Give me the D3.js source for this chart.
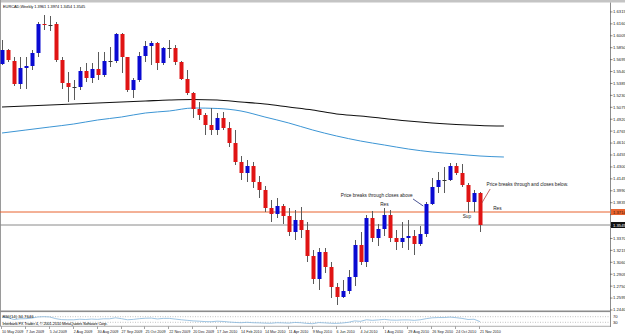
<!DOCTYPE html>
<html><head><meta charset="utf-8">
<script src="https://cdn.jsdelivr.net/npm/d3@7"></script>
<style>html,body{margin:0;padding:0;background:#fff;overflow:hidden}svg{display:block}</style>
</head><body><svg id="c" width="625" height="334"></svg>
<script>
// ---- data (EURCAD weekly, bar index 0 = week of 10 May 2009) ----
const opens = [1.5638,1.5820,1.5677,1.5378,1.5586,1.5612,1.5781,1.6158,1.6145,1.6158,
1.5690,1.5391,1.5339,1.5339,1.5547,1.5456,1.5573,1.5495,1.5677,1.5677,
1.6028,1.5729,1.5300,1.5430,1.5742,1.5872,1.5911,1.5651,1.5846,1.5846,
1.5664,1.5443,1.5261,1.5053,1.4975,1.4845,1.4780,1.4936,1.4806,1.4611,
1.4364,1.4221,1.4312,1.4104,1.4000,1.3766,1.3688,1.3792,1.3662,1.3454,
1.3610,1.3480,1.3142,1.2843,1.3194,1.2999,1.2739,1.2609,1.2687,1.2869,
1.3285,1.3064,1.3636,1.3376,1.3493,1.3675,1.3376,1.3324,1.3376,1.3402,
1.3298,1.3428,1.3818,1.4039,1.4130,1.4130,1.4312,1.4221,1.4065,1.3844,1.3961];
const highs = [1.5950,1.5833,1.5729,1.5729,1.5729,1.5820,1.6184,1.6275,1.6262,1.6184,
1.5729,1.5534,1.5430,1.5599,1.5651,1.5651,1.5794,1.5794,1.5859,1.6041,
1.6041,1.5729,1.5456,1.5794,1.5937,1.5937,1.5924,1.5859,1.5950,1.5885,
1.5677,1.5560,1.5274,1.5144,1.5001,1.5066,1.5001,1.5014,1.4884,1.4780,
1.4442,1.4390,1.4364,1.4182,1.4052,1.3870,1.3896,1.3818,1.3766,1.3740,
1.3779,1.3584,1.3220,1.3246,1.3246,1.3064,1.2791,1.2830,1.2960,1.3350,
1.3454,1.3675,1.3727,1.3558,1.3766,1.3740,1.3480,1.3584,1.3610,1.3480,
1.3532,1.3844,1.4156,1.4234,1.4299,1.4351,1.4351,1.4338,1.4091,1.4000,1.3974];
const lows = [1.5625,1.5664,1.5352,1.5313,1.5313,1.5560,1.5729,1.6080,1.6067,1.5664,
1.5313,1.5144,1.5170,1.5300,1.5404,1.5391,1.5430,1.5469,1.5599,1.5651,
1.5521,1.5274,1.5196,1.5404,1.5664,1.5625,1.5560,1.5625,1.5716,1.5625,
1.5430,1.5235,1.4936,1.4910,1.4715,1.4715,1.4715,1.4780,1.4559,1.4325,
1.4130,1.4104,1.4026,1.3896,1.3714,1.3584,1.3636,1.3558,1.3402,1.3350,
1.3376,1.3064,1.2778,1.2700,1.2921,1.2596,1.2505,1.2596,1.2648,1.2752,
1.3025,1.2999,1.3324,1.3272,1.3402,1.3324,1.3220,1.3246,1.3220,1.3155,
1.3272,1.3389,1.3805,1.3961,1.3961,1.4117,1.4195,1.4039,1.3701,1.3714,1.3454];
const closes = [1.5820,1.5690,1.5378,1.5586,1.5612,1.5781,1.6158,1.6145,1.6145,1.5690,
1.5391,1.5339,1.5339,1.5547,1.5456,1.5573,1.5495,1.5677,1.5677,1.6028,
1.5729,1.5300,1.5430,1.5742,1.5872,1.5911,1.5651,1.5846,1.5846,1.5664,
1.5443,1.5261,1.5053,1.4975,1.4845,1.4780,1.4936,1.4806,1.4611,1.4364,
1.4221,1.4312,1.4104,1.4000,1.3766,1.3688,1.3792,1.3662,1.3454,1.3610,
1.3480,1.3142,1.2843,1.3194,1.2999,1.2739,1.2609,1.2687,1.2869,1.3285,
1.3064,1.3636,1.3376,1.3493,1.3675,1.3376,1.3324,1.3376,1.3402,1.3298,
1.3428,1.3818,1.4039,1.4130,1.4130,1.4312,1.4221,1.4065,1.3844,1.3961,1.3545];

// moving averages, read every 4 bars (bar index 0..84)
const maIndex = [0,4,8,12,16,20,24,28,32,36,40,44,48,52,56,60,64,68,72,76,80,84];
const maSlow = [1.5079,1.5092,1.5105,1.5118,1.5131,1.5144,1.5157,1.5170,1.5177,1.5170,1.5144,
1.5118,1.5079,1.5040,1.4988,1.4962,1.4930,1.4897,1.4871,1.4852,1.4839,1.4832];
const maFast = [1.4741,1.4780,1.4819,1.4858,1.4910,1.4949,1.5001,1.5027,1.5066,1.5060,1.5027,
1.4949,1.4871,1.4780,1.4702,1.4637,1.4585,1.4533,1.4494,1.4468,1.4442,1.4429];

// RSI(14) per bar
const rsi = [66,62,50,55,56,60,68,70,68,56,49,48,48,52,50,53,51,55,55,62,
56,48,51,56,59,60,54,58,58,53,48,44,40,38,35,34,38,36,32,29,
27,30,27,26,24,23,27,26,24,29,27,22,20,28,26,23,22,25,30,40,
37,48,44,47,51,46,45,47,47,44,48,56,62,64,64,67,63,58,50,52,34.7646];

const dateLabels = ["10 May 2009","7 Jun 2009","5 Jul 2009","2 Aug 2009","30 Aug 2009","27 Sep 2009",
"25 Oct 2009","22 Nov 2009","20 Dec 2009","17 Jan 2010","14 Feb 2010","14 Mar 2010","11 Apr 2010",
"9 May 2010","6 Jun 2010","4 Jul 2010","1 Aug 2010","29 Aug 2010","26 Sep 2010","24 Oct 2010","21 Nov 2010"];
const dateIndex = [0,4,8,12,16,20,24,28,32,36,40,44,48,52,56,60,64,68,72,76,80];

const priceTicks = [1.2440,1.2595,1.2750,1.2905,1.3060,1.3215,1.3370,1.3525,1.3680,1.3835,1.3990,
1.4145,1.4300,1.4455,1.4610,1.4765,1.4920,1.5075,1.5230,1.5385,1.5540,1.5695,1.5850,1.6005,1.6160,1.6315];

const resLevel = 1.3714;   // orange horizontal line
const bidLevel = 1.3545;   // last price line
const title = "EURCAD,Weekly  1.3961 1.3974 1.3454 1.3545";
const rsiLabel = "RSI(14) 34.7646";
const copyright = "Interbank FX Trader 4, \u00A9 2001-2010 MetaQuotes Software Corp.";
const notes = [
  {text:"Res", bar:63.3, price:1.3792, size:4.7},
  {text:"Price breaks through closes above", bar:56.7, price:1.3909, size:4.7},
  {text:"Sup", bar:77.1, price:1.3636, size:4.7},
  {text:"Price breaks through and closes below.", bar:81.1, price:1.4052, size:4.7},
  {text:"Res", bar:82.2, price:1.3740, size:4.7}
];
const arrows = [
  {b0:68.8, p0:1.3883, b1:70.5, p1:1.3792, color:"#1d2a78"},
  {b0:81.7, p0:1.4013, b1:80.3, p1:1.3831, color:"#b43a3a"}
];

// ---- drawing ----
const W = 625, H = 334;
const FONT = "'Liberation Sans', Arial, sans-serif";
const svg = d3.select('#c');
const x = d3.scaleLinear().domain([0, 80]).range([2, 480]);
const y = d3.scaleLinear().domain([1.2440, 1.6470]).range([310, 0]);
const yR = d3.scaleLinear().domain([0, 100]).range([326.5, 312.5]);
const axisX = 610;

svg.append('rect').attr('width', W).attr('height', H).attr('fill', '#fff');
svg.append('rect').attr('x', 0).attr('y', 0).attr('width', W).attr('height', 2.5).attr('fill', '#c4c4c4');
svg.append('rect').attr('x', 0).attr('y', 0).attr('width', 1).attr('height', 326).attr('fill', '#9a9a9a');

const defs = svg.append('defs');
defs.append('clipPath').attr('id', 'main').append('rect')
  .attr('x', 0).attr('y', 2.5).attr('width', axisX).attr('height', 308.5);
defs.append('clipPath').attr('id', 'sub').append('rect')
  .attr('x', 0).attr('y', 312).attr('width', axisX).attr('height', 14);

const main = svg.append('g').attr('clip-path', 'url(#main)');

const maLine = d3.line().x(d => x(d[0])).y(d => y(d[1])).curve(d3.curveMonotoneX);
main.append('path').datum(maIndex.map((b, i) => [b, maSlow[i]]))
  .attr('d', maLine).attr('fill', 'none').attr('stroke', '#111').attr('stroke-width', 1.1);
main.append('path').datum(maIndex.map((b, i) => [b, maFast[i]]))
  .attr('d', maLine).attr('fill', 'none').attr('stroke', '#3c95d4').attr('stroke-width', 1);

main.append('line').attr('x1', 0).attr('x2', axisX).attr('y1', y(resLevel)).attr('y2', y(resLevel))
  .attr('stroke', '#e8622e').attr('stroke-width', 1);
main.append('line').attr('x1', 0).attr('x2', axisX).attr('y1', y(bidLevel)).attr('y2', y(bidLevel))
  .attr('stroke', '#8a8a8a').attr('stroke-width', 1);

const bars = d3.range(opens.length).map(i => ({i, o: opens[i], h: highs[i], l: lows[i], c: closes[i]}));
const cg = main.selectAll('g.candle').data(bars).join('g').attr('class', 'candle');
cg.append('line')
  .attr('x1', d => Math.round(x(d.i)) + 0.5).attr('x2', d => Math.round(x(d.i)) + 0.5)
  .attr('y1', d => y(d.h)).attr('y2', d => y(d.l))
  .attr('stroke', '#5a5a5a').attr('stroke-width', 1);
cg.append('rect')
  .attr('x', d => Math.round(x(d.i)) - 1.5)
  .attr('width', 4)
  .attr('y', d => y(Math.max(d.o, d.c)))
  .attr('height', d => Math.max(1, Math.abs(y(d.o) - y(d.c))))
  .attr('fill', d => d.c > d.o ? '#0a0ad2' : (d.c < d.o ? '#e01414' : '#333'))
  .attr('stroke', 'none');

svg.selectAll('text.note').data(notes).join('text').attr('class', 'note')
  .attr('x', d => x(d.bar)).attr('y', d => y(d.price))
  .attr('font-family', FONT).attr('font-size', d => d.size).attr('fill', '#1a1a1a')
  .text(d => d.text);
svg.selectAll('line.arrow').data(arrows).join('line').attr('class', 'arrow')
  .attr('x1', d => x(d.b0)).attr('y1', d => y(d.p0)).attr('x2', d => x(d.b1)).attr('y2', d => y(d.p1))
  .attr('stroke', d => d.color).attr('stroke-width', 0.8);

svg.append('text').attr('x', 3).attr('y', 8).attr('font-family', FONT).attr('font-size', 3.9)
  .attr('fill', '#000').text(title);

svg.append('rect').attr('x', 0).attr('y', 310.5).attr('width', axisX + 1).attr('height', 1.6).attr('fill', '#8c8c8c');
svg.append('line').attr('x1', 0).attr('x2', axisX).attr('y1', 326.3).attr('y2', 326.3).attr('stroke', '#9a9a9a').attr('stroke-width', 0.8);
const sub = svg.append('g').attr('clip-path', 'url(#sub)');
[70, 30].forEach(v => {
  sub.append('line').attr('x1', 0).attr('x2', axisX).attr('y1', yR(v)).attr('y2', yR(v))
    .attr('stroke', '#9a9a9a').attr('stroke-width', 0.6).attr('stroke-dasharray', '1,1.5');
});
sub.append('path').datum(rsi)
  .attr('d', d3.line().x((d, i) => x(i)).y(d => yR(d)))
  .attr('fill', 'none').attr('stroke', '#86b6dc').attr('stroke-width', 0.8);
svg.append('text').attr('x', 2.5).attr('y', 318).attr('font-family', FONT).attr('font-size', 4.2)
  .attr('fill', '#000').attr('textLength', 31).text(rsiLabel);
svg.append('text').attr('x', 2.5).attr('y', 325).attr('font-family', FONT).attr('font-size', 4)
  .attr('fill', '#000').attr('textLength', 105).text(copyright);

// right price axis (ticks hidden where the level markers sit)
svg.append('line').attr('x1', axisX + 0.5).attr('x2', axisX + 0.5).attr('y1', 2.5).attr('y2', 327)
  .attr('stroke', '#8c8c8c').attr('stroke-width', 1);
const markerYs = [y(resLevel), y(bidLevel)];
const shownTicks = priceTicks.filter(v => markerYs.every(m => Math.abs(y(v) - m) > 6));
const pt = svg.append('g');
pt.selectAll('line').data(priceTicks).join('line')
  .attr('x1', axisX).attr('x2', axisX + 2.5).attr('y1', d => y(d)).attr('y2', d => y(d))
  .attr('stroke', '#555').attr('stroke-width', 0.7);
pt.selectAll('text').data(shownTicks).join('text')
  .attr('x', axisX + 3).attr('y', d => y(d) + 1.4)
  .attr('font-family', FONT).attr('font-size', 4.2).attr('fill', '#222')
  .text(d => d3.format('.4f')(d));
[[70, '70'], [30, '30']].forEach(([v, t]) => {
  svg.append('text').attr('x', axisX + 3).attr('y', yR(v) + 1.4).attr('font-family', FONT)
    .attr('font-size', 4.2).attr('fill', '#222').text(t);
});
function marker(v, bg, fg) {
  svg.append('rect').attr('x', axisX + 1).attr('y', y(v) - 3).attr('width', W - axisX - 1).attr('height', 6).attr('fill', bg);
  svg.append('text').attr('x', axisX + 3).attr('y', y(v) + 1.5).attr('font-family', FONT)
    .attr('font-size', 4.2).attr('fill', fg).text(d3.format('.4f')(v));
}
marker(resLevel, '#e8622e', '#3a1a08');
marker(bidLevel, '#111', '#fff');

const dg = svg.append('g');
dg.selectAll('line').data(dateIndex).join('line')
  .attr('x1', d => Math.round(x(d)) - 0.5).attr('x2', d => Math.round(x(d)) - 0.5)
  .attr('y1', 326.5).attr('y2', 329).attr('stroke', '#666').attr('stroke-width', 0.6);
dg.selectAll('text').data(dateIndex).join('text')
  .attr('x', d => x(d)).attr('y', 332.5)
  .attr('font-family', FONT).attr('font-size', 3.7).attr('fill', '#222')
  .text((d, i) => dateLabels[i]);
</script>
</body></html>
